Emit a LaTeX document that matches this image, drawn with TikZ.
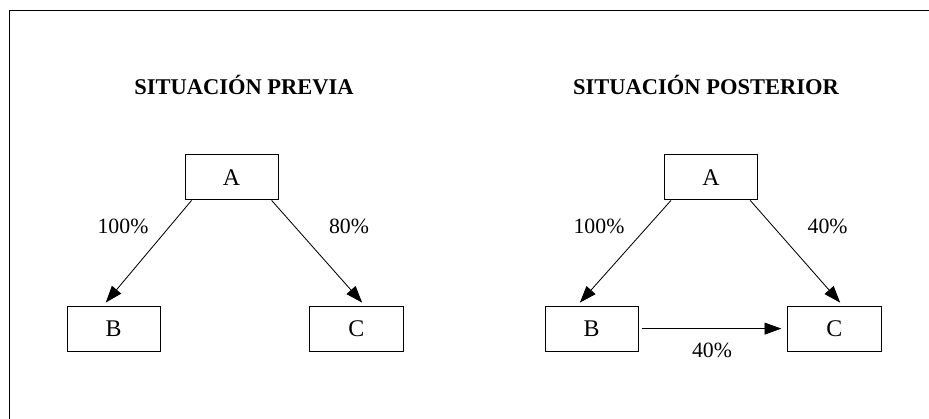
\documentclass[tikz,border=0pt]{standalone}
\usepackage{fontspec}
\setmainfont{Liberation Serif}
\usetikzlibrary{arrows.meta}

\tikzset{
  caja/.style={draw, line width=0.7pt, minimum width=2.33cm, minimum height=1.125cm, inner sep=0pt, font=\fontsize{17}{19}\selectfont},
  pct/.style={font=\fontsize{15.5}{18}\selectfont},
  titulo/.style={font=\bfseries\fontsize{16}{18}\selectfont},
  flecha/.style={line width=0.6pt, -{Triangle[length=0.42cm,width=0.3cm]}}
}

\begin{document}
\begin{tikzpicture}
\useasboundingbox (0,0) rectangle (23.225,10.475);
\draw[line width=0.7pt] (0.24,0) -- (0.24,10.225) -- (23.225,10.225);

% situacion previa
\node[titulo] (T1) at (6.1,8.35) {SITUACIÓN PREVIA};
\node[caja] (A1) at (5.79,6.04) {A};
\node[caja] (B1) at (2.84,2.26) {B};
\node[caja] (C1) at (8.91,2.26) {C};

\draw[flecha, shorten >=0.1cm] ([xshift=-1cm]A1.south) -- ([xshift=-0.26cm]B1.north);
\draw[flecha, shorten >=0.1cm] ([xshift=1cm]A1.south) -- ([xshift=0.21cm]C1.north);

\node[pct] (p1) at (3.075,4.825) {100\%};
\node[pct] (p2) at (8.725,4.825) {80\%};

% situacion posterior
\node[titulo] (T2) at (17.65,8.35) {SITUACIÓN POSTERIOR};
\node[caja] (A2) at (17.775,6.04) {A};
\node[caja] (B2) at (14.79,2.26) {B};
\node[caja] (C2) at (20.86,2.26) {C};

\draw[flecha, shorten >=0.1cm] ([xshift=-1cm]A2.south) -- ([xshift=-0.36cm]B2.north);
\draw[flecha, shorten >=0.1cm] ([xshift=0.98cm]A2.south) -- ([xshift=0.21cm]C2.north);
\draw[flecha, shorten <=0.08cm, shorten >=0.15cm] (B2.east) -- (C2.west);

\node[pct] (p3) at (14.975,4.825) {100\%};
\node[pct] (p4) at (20.69,4.825) {40\%};
\node[pct] (p5) at (17.8,1.725) {40\%};

\end{tikzpicture}
\end{document}
